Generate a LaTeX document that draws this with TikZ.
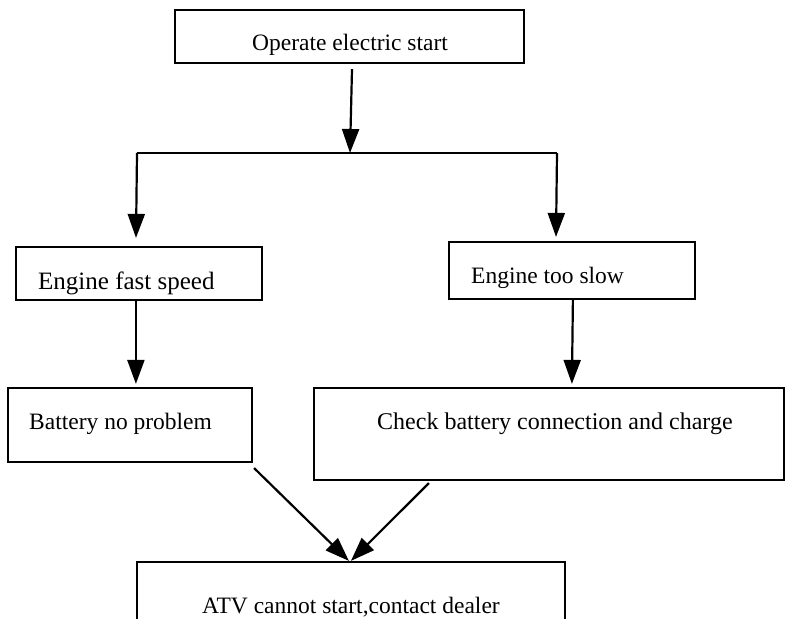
\documentclass[tikz,border=0pt]{standalone}
\usepackage{fontspec}
\setmainfont{Liberation Serif}
\usetikzlibrary{arrows.meta,calc}
\begin{document}
\begin{tikzpicture}[x=1pt,y=-1pt,
  box/.style={draw=black,line width=2.2pt,rectangle,inner sep=0pt},
  lbl/.style={anchor=base west,inner sep=0pt,font=\fontsize{23.5}{26}\selectfont},
  arr/.style={line width=2.2pt,-{Triangle[length=24pt,width=17pt]}},
  ln/.style={line width=2.2pt}]
\useasboundingbox (0,0) rectangle (786,618);
\clip (0,0) rectangle (786,618);
\fill[white] (0,0) rectangle (786,618);
% boxes
\node[box,minimum width=349pt,minimum height=53pt] (op) at (349.5,36.5) {};
\node[box,minimum width=246pt,minimum height=53pt] (fast) at (139,273.5) {};
\node[box,minimum width=246pt,minimum height=57pt] (slow) at (572,270.5) {};
\node[box,minimum width=244pt,minimum height=74pt] (bat) at (130,425) {};
\node[box,minimum width=470pt,minimum height=92pt] (chk) at (549,434) {};
\node[box,minimum width=428pt,minimum height=80pt] (atv) at (351,602) {};
% labels
\node[lbl] (top) at (252,50) {Operate electric start};
\node[lbl,font=\fontsize{25}{28}\selectfont] (tfast) at (38,289) {Engine fast speed};
\node[lbl] (tslow) at (471,283) {Engine too slow};
\node[lbl] (tbat) at (29,429) {Battery no problem};
\node[lbl,font=\fontsize{24}{27}\selectfont] (tchk) at (377,429) {Check battery connection and charge};
\node[lbl] (tatv) at (202,613) {ATV cannot start,contact dealer};
% junction
\coordinate (j) at (350,153);
\coordinate (jl) at (137,153);
\coordinate (jr) at (557,153);
\draw[arr] ($(op.south)+(2.5,5)$) -- (j);
\draw[ln] (jl) -- (jr);
\draw[arr] (jl) -- ($(fast.north)+(-3,-8)$);
\draw[arr] (jr) -- ($(slow.north)+(-16,-4)$);
\draw[arr] ($(fast.south west)+(121,0)$) -- ($(bat.north west)+(129,-3)$);
\draw[arr] ($(slow.south west)+(125,0)$) -- ($(chk.north west)+(259,-3)$);
\draw[arr] ($(bat.south east)+(1,5)$) -- ($(atv.north west)+(213,0)$);
\draw[arr] ($(chk.south west)+(116,2)$) -- ($(atv.north west)+(215,0)$);
\end{tikzpicture}
\end{document}
